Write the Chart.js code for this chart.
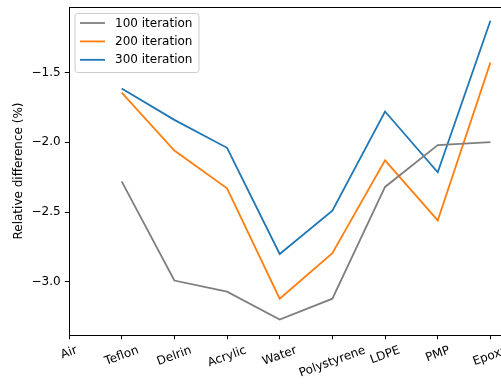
<!DOCTYPE html>
<html>
<head>
<meta charset="utf-8">
<script src="https://cdn.jsdelivr.net/npm/chart.js@4/dist/chart.umd.min.js"></script>
<style>
  html, body { margin: 0; padding: 0; background: #fff; overflow: hidden; }
  #wrap { width: 510px; height: 385px; }
</style>
</head>
<body>
<div id="wrap"><canvas id="c" width="510" height="385"></canvas></div>
<script>
// Materials along the x axis (Air has no measurement)
const categories = ["Air", "Teflon", "Delrin", "Acrylic", "Water", "Polystyrene", "LDPE", "PMP", "Epoxy"];

// Relative difference (%) per material for each iteration count
const iter100 = [null, -2.28, -2.99, -3.07, -3.27, -3.12, -2.32, -2.02, -2.00];
const iter200 = [null, -1.645, -2.06, -2.33, -3.12, -2.795, -2.13, -2.56, -1.43];
const iter300 = [null, -1.615, -1.84, -2.04, -2.80, -2.49, -1.78, -2.215, -1.13];

const seriesNames = ["100 iteration", "200 iteration", "300 iteration"];
const yTicks = [-3.0, -2.5, -2.0, -1.5];

const FONT = '"DejaVu Sans", "Liberation Sans", sans-serif';
const colors = ["#7f7f7f", "#ff7f0e", "#1f77b4"];

function toPoints(arr) {
  return categories.map((c, i) => ({ x: i, y: arr[i] }));
}

const fmt = v => (v < 0 ? "\u2212" : "") + Math.abs(v).toFixed(1);

// Frame, rotated category labels and legend box
const decorations = {
  id: "decorations",
  afterDraw(chart) {
    const ctx = chart.ctx;
    const area = chart.chartArea;
    const xs = chart.scales.x;
    ctx.save();

    // top / right spines
    ctx.strokeStyle = "#000";
    ctx.lineWidth = 1;
    ctx.beginPath();
    ctx.moveTo(Math.round(area.left) + 0.5, Math.round(area.top) + 0.5);
    ctx.lineTo(Math.round(area.right) + 0.5, Math.round(area.top) + 0.5);
    ctx.lineTo(Math.round(area.right) + 0.5, Math.round(area.bottom) + 0.5);
    ctx.stroke();

    // rotated x tick labels, centred on their ticks
    const theta = 20 * Math.PI / 180;
    ctx.font = "12px " + FONT;
    ctx.fillStyle = "#000";
    ctx.textAlign = "center";
    ctx.textBaseline = "middle";
    const top = area.bottom + 4.2 + 4.2;
    const h = 14;
    categories.forEach((lab, i) => {
      const w = ctx.measureText(lab).width;
      const H = w * Math.sin(theta) + h * Math.cos(theta);
      const x = xs.getPixelForValue(i);
      ctx.save();
      ctx.translate(x, top + H / 2);
      ctx.rotate(-theta);
      ctx.fillText(lab, 0, 0);
      ctx.restore();
    });

    // legend
    const lx = area.left + 6, ly = area.top + 6.5;
    const lw = 124, lh = 59, r = 2.5;
    ctx.beginPath();
    ctx.moveTo(lx + r, ly);
    ctx.lineTo(lx + lw - r, ly);
    ctx.arcTo(lx + lw, ly, lx + lw, ly + r, r);
    ctx.lineTo(lx + lw, ly + lh - r);
    ctx.arcTo(lx + lw, ly + lh, lx + lw - r, ly + lh, r);
    ctx.lineTo(lx + r, ly + lh);
    ctx.arcTo(lx, ly + lh, lx, ly + lh - r, r);
    ctx.lineTo(lx, ly + r);
    ctx.arcTo(lx, ly, lx + r, ly, r);
    ctx.closePath();
    ctx.fillStyle = "rgba(255,255,255,0.8)";
    ctx.fill();
    ctx.strokeStyle = "#cccccc";
    ctx.lineWidth = 1;
    ctx.stroke();

    ctx.textAlign = "left";
    ctx.textBaseline = "middle";
    chart.data.datasets.forEach((ds, k) => {
      const y = ly + 9.5 + k * 18.4;
      ctx.strokeStyle = ds.borderColor;
      ctx.lineWidth = 1.8;
      ctx.beginPath();
      ctx.moveTo(lx + 5, y);
      ctx.lineTo(lx + 30, y);
      ctx.stroke();
      ctx.fillStyle = "#000";
      ctx.fillText(ds.label, lx + 40, y + 0.5);
    });
    ctx.restore();
  }
};

const datasetsSrc = [iter100, iter200, iter300];

new Chart(document.getElementById("c"), {
  type: "line",
  data: {
    datasets: datasetsSrc.map((arr, k) => ({
      label: seriesNames[k],
      data: toPoints(arr),
      borderColor: colors[k],
      backgroundColor: colors[k],
      borderWidth: 1.8,
      pointRadius: 0,
      tension: 0,
      fill: false,
      spanGaps: false
    }))
  },
  options: {
    responsive: false,
    animation: false,
    events: [],
    layout: { padding: { top: 7, right: 0, bottom: 0, left: 0 } },
    plugins: { legend: { display: false }, tooltip: { enabled: false } },
    scales: {
      x: {
        type: "linear",
        min: 0,
        max: 8.372,
        afterBuildTicks: s => { s.ticks = categories.map((c, i) => ({ value: i })); },
        afterFit: s => { s.height = 50; s.paddingLeft = 0; s.paddingRight = 0; },
        ticks: { display: false },
        grid: { drawOnChartArea: false, drawTicks: true, tickLength: 4.2, color: "#000", lineWidth: 1 },
        border: { display: true, color: "#000", width: 1 }
      },
      y: {
        type: "linear",
        min: -3.38,
        max: -1.032,
        afterBuildTicks: s => { s.ticks = yTicks.map(v => ({ value: v })); },
        afterFit: s => { s.width = 69; s.paddingTop = 0; s.paddingBottom = 0; },
        ticks: {
          callback: v => fmt(v),
          font: { family: FONT, size: 12 },
          color: "#000",
          padding: 4.2
        },
        grid: { drawOnChartArea: false, drawTicks: true, tickLength: 4.2, color: "#000", lineWidth: 1 },
        border: { display: true, color: "#000", width: 1 },
        title: {
          display: true,
          text: "Relative difference (%)",
          font: { family: FONT, size: 12 },
          color: "#000",
          padding: { top: 11.8, bottom: 0 }
        }
      }
    }
  },
  plugins: [decorations]
});
</script>
</body>
</html>
